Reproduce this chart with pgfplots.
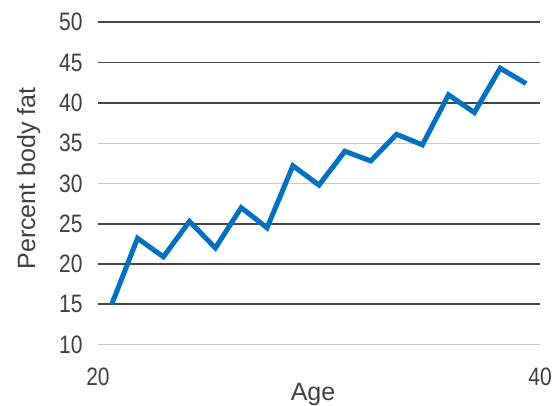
\documentclass[border=0pt]{standalone}
\usepackage{pgfplots}
\pgfplotsset{compat=1.18}
\usepackage{fontspec}
\setmainfont{Liberation Sans}
\definecolor{lineblue}{RGB}{0,112,192}
\definecolor{darkgrid}{RGB}{70,70,70}
\definecolor{lightgrid}{RGB}{200,200,200}
\begin{document}
\begin{tikzpicture}
\begin{axis}[
  name=ax,
  scale only axis,
  width=442pt, height=322.4pt,
  xmin=20, xmax=40, ymin=10, ymax=50,
  axis line style={draw=none},
  xtick={20,40},
  ytick={15,20,25,40,45,50},
  extra y ticks={10,30,35},
  extra y tick style={grid style={lightgrid, line width=1pt}},
  ymajorgrids,
  grid style={darkgrid, line width=1.8pt},
  major tick length=0pt,
  tick label style={font=\fontsize{21}{24}\selectfont, text=black!75},
  xticklabel={\scalebox{1}[1.2]{\pgfmathprintnumber{\tick}}},
  yticklabel={\scalebox{1}[1.2]{\pgfmathprintnumber{\tick}}},
  /pgf/number format/assume math mode=true,
  yticklabel style={xshift=-12pt},
  xticklabel style={yshift=-20pt},
  xlabel={Age},
  ylabel={Percent body fat},
  label style={font=\fontsize{25}{28}\selectfont, text=black!75},
  xlabel style={yshift=10pt, xshift=-6pt},
  ylabel style={yshift=12pt, xshift=5pt},
  clip=false,
]
\addplot[lineblue, line width=5pt, line join=miter] coordinates {
(20.62,15.0) (21.79,23.2) (22.96,20.9) (24.14,25.3) (25.31,22.0)
(26.48,27.0) (27.65,24.5) (28.82,32.2) (30.00,29.8) (31.17,34.0)
(32.34,32.8) (33.51,36.1) (34.68,34.8) (35.86,41.0) (37.03,38.8)
(38.20,44.3) (39.37,42.4)
};
\end{axis}
\pgfresetboundingbox
\path[use as bounding box] ([xshift=-98pt,yshift=-61.3pt]ax.south west) rectangle ([xshift=14pt,yshift=22.3pt]ax.north east);
\end{tikzpicture}
\end{document}
